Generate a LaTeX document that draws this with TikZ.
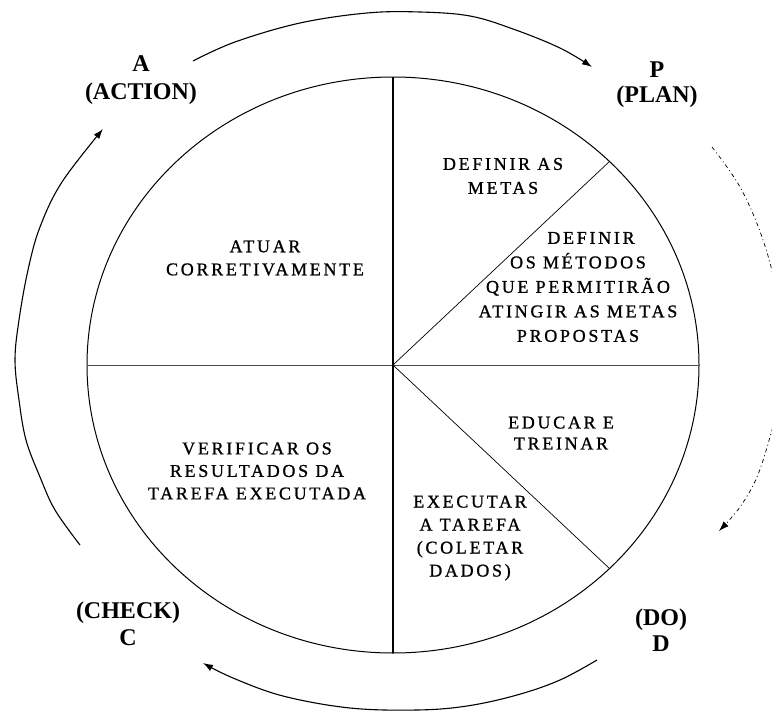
\documentclass[tikz,border=0pt]{standalone}
\usepackage{fontspec}
\setmainfont{Liberation Serif}
\newfontfamily\spacedfont[LetterSpace=15,FakeBold=1]{Liberation Serif}
\usetikzlibrary{arrows.meta}
\begin{document}
\begin{tikzpicture}[x=1pt,y=-1pt,
  body/.style={font=\spacedfont\fontsize{18}{23}\selectfont, align=center, inner sep=0pt},
  lbl/.style={font=\bfseries\fontsize{24}{27}\selectfont, align=center, inner sep=0pt},
  cyc/.style={line width=1.1pt, -{Latex[length=10pt,width=7pt]}},
  rim/.style={line width=1pt},
  divider/.style={line width=0.7pt},
]
\useasboundingbox (0,0) rectangle (772,712);
\fill[white] (0,0) rectangle (772,712);
% centre and rim points
\coordinate (O) at (393,365);
\coordinate (Top) at (393,77);
\coordinate (Bot) at (393,653);
\coordinate (Lft) at (87,365);
\coordinate (Rgt) at (699,365);
\coordinate (UR) at (610,161);
\coordinate (LR) at (610,569);
% main ellipse and dividers
\draw[rim] (O) ellipse [x radius=306pt, y radius=288pt];
\draw[line width=0.6pt, black!70] (Lft) -- (Rgt);
\draw[line width=1.5pt] (Top) -- (Bot);
\draw[divider] (O) -- (UR);
\draw[divider] (O) -- (LR);
% cycle arrows
\begin{scope}
\clip (0,0) rectangle (772,712);
\draw[cyc] plot[smooth, tension=0.6] coordinates {(193,61) (235,42) (300,23) (367,13) (420,12) (470,16) (513,29) (560,48) (592,67)};
\draw[cyc, line width=0.7pt, dash pattern=on 4pt off 3pt on 1pt off 3pt] plot[smooth, tension=0.6] coordinates {(712,147) (740,187) (762,237) (776,290) (782,350) (779,400) (770,437) (757,477) (740,507) (719,531)};
\draw[cyc] plot[smooth, tension=0.6] coordinates {(597,660) (560,680) (517,695) (467,706) (417,710) (350,708) (283,696) (233,678) (203,663)};
\draw[cyc] plot[smooth, tension=0.6] coordinates {(80,545) (55,510) (40,477) (26,440) (19,400) (15,360) (19,320) (28,270) (40,227) (62,182) (103,129)};
\end{scope}
% phase labels
\node[lbl, font=\bfseries\fontsize{24}{28}\selectfont] (act) at (141,80) {A\\(ACTION)};
\node[lbl, font=\bfseries\fontsize{24}{25}\selectfont] (plan) at (657,85) {P\\(PLAN)};
\node[lbl] (check) at (128,624) {(CHECK)\\C};
\node[lbl, font=\bfseries\fontsize{24}{26}\selectfont] (do) at (661,630) {(DO)\\D};
% sector texts
\node[body] (atuar) at (265,258) {ATUAR\\CORRETIVAMENTE};
\node[body, font=\spacedfont\fontsize{18}{24}\selectfont] (metas) at (503,176) {DEFINIR AS\\METAS};
\node[body, font=\spacedfont\fontsize{18}{24.5}\selectfont] (metodos) at (578,287) {\hspace*{26pt}DEFINIR\\OS MÉTODOS\\QUE PERMITIRÃO\\ATINGIR AS METAS\\PROPOSTAS};
\node[body, font=\spacedfont\fontsize{18}{22.5}\selectfont] (verif) at (257,471) {VERIFICAR OS\\RESULTADOS DA\\TAREFA EXECUTADA};
\node[body, font=\spacedfont\fontsize{18}{21}\selectfont] (educar) at (561,433) {EDUCAR E\\TREINAR};
\node[body] (exec) at (470,538) {EXECUTAR\\A TAREFA\\(COLETAR\\DADOS)};
\end{tikzpicture}
\end{document}
